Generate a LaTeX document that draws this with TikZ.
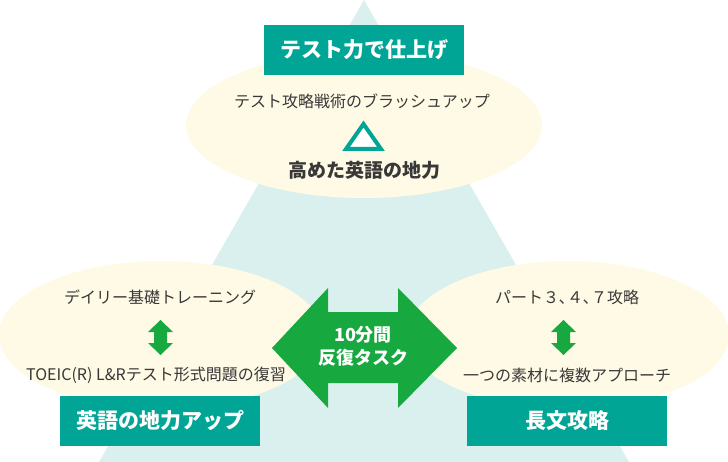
\documentclass[tikz,border=0pt]{standalone}
\usepackage{fontspec}
\setmainfont{Noto Sans CJK JP}
\definecolor{tri}{HTML}{D9F0EE}
\definecolor{cream}{HTML}{FFFAE5}
\definecolor{teal}{HTML}{00A596}
\definecolor{grn}{HTML}{17A83F}
\definecolor{txt}{HTML}{383838}
\tikzset{
  body/.style={text=txt, font=\fontsize{16}{19}\selectfont, inner sep=0pt},
  titlebox/.style={fill=teal, text=white, font=\bfseries\fontsize{21}{25}\selectfont, minimum width=200pt, minimum height=50pt, inner sep=0pt},
}
\begin{document}
\begin{tikzpicture}[x=1pt,y=-1pt]
\useasboundingbox (0,0) rectangle (728,462);
% background triangle
\fill[tri] (364,0) -- (629,462) -- (99,462) -- cycle;
% ellipses
\fill[cream] (364,125) ellipse [x radius=178, y radius=73];
\fill[cream] (161,335) ellipse [x radius=162, y radius=74];
\fill[cream] (568,335) ellipse [x radius=161, y radius=74];
% top
\node[titlebox] (topbox) at (364,50) {テスト力で仕上げ};
\node[body] (toptxt) at (362,101) {テスト攻略戦術のブラッシュアップ};
\draw[teal, line width=4pt, fill=white, line join=miter] (346,149) -- (363.5,124) -- (381,149) -- cycle;
\node[text=txt, font=\bfseries\fontsize{19}{22}\selectfont, inner sep=0pt] (topbold) at (364,170) {高めた英語の地力};
% left
\node[body] (l1) at (160,297) {デイリー基礎トレーニング};
\node[body] (l2) at (156,375) {TOEIC(R) L\&Rテスト形式問題の復習};
\fill[grn] (160.5,320) -- (173,332) -- (167,332) -- (167,343) -- (173,343) -- (160.5,355) -- (148,343) -- (154,343) -- (154,332) -- (148,332) -- cycle;
\node[titlebox] (lbox) at (160,420.5) {英語の地力アップ};
% right
\node[body] (r1) at (567,297) {パート３､４､７攻略};
\node[body] (r2) at (567,375) {一つの素材に複数アプローチ};
\fill[grn] (563.5,320) -- (576,332) -- (570,332) -- (570,343) -- (576,343) -- (563.5,355) -- (551,343) -- (557,343) -- (557,332) -- (551,332) -- cycle;
\node[titlebox] (rbox) at (567,420.5) {長文攻略};
% center double arrow
\fill[grn] (272,348) -- (328,288) -- (328,312) -- (398,312) -- (398,288) -- (457,348) -- (398,408) -- (398,383) -- (328,383) -- (328,408) -- cycle;
\node[text=white, font=\bfseries\fontsize{18}{23}\selectfont, align=center, inner sep=0pt] (ctr) at (363,346) {10分間\\反復タスク};
\end{tikzpicture}
\end{document}
